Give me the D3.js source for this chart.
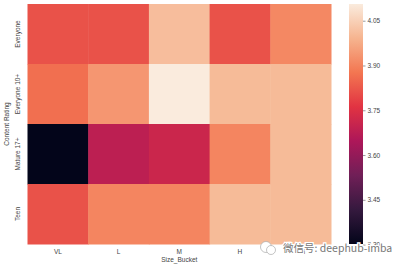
<!DOCTYPE html>
<html>
<head>
<meta charset="utf-8">
<script src="https://cdn.jsdelivr.net/npm/d3@7"></script>
<style>
  body { margin: 0; background: #fff; }
  svg text { font-family: "Liberation Sans", Arial, sans-serif; }
</style>
</head>
<body>
<script>
const xSize = 400; const ySize = 267;

// data
const sizeBuckets = ["VL", "L", "M", "H", "VH"];
const ratings = ["Everyone", "Everyone 10+", "Mature 17+", "Teen"];
const everyone   = [3.815, 3.815, 4.01, 3.815, 3.91];
const everyone10 = [3.865, 3.935, 4.106, 4.005, 4.005];
const mature17   = [3.302, 3.68, 3.71, 3.905, 4.005];
const teen       = [3.815, 3.905, 3.905, 4.005, 4.005];
const seriesValues = [everyone, everyone10, mature17, teen];
const cbarTicks = [3.30, 3.45, 3.60, 3.75, 3.90, 4.05];

// seaborn "rocket" key colours
const rocketStops = ["#03051a", "#35193e", "#701f57", "#ad1759", "#e13342", "#f37651", "#f6b48f", "#faebdd"];

const cells = [];
seriesValues.forEach((row, i) => {
    row.forEach((v, j) => cells.push({ rating: ratings[i], bucket: sizeBuckets[j], value: v }));
});

const vMin = d3.min(cells, d => d.value);
const vMax = d3.max(cells, d => d.value);

const rocket = d3.scaleLinear()
    .domain(d3.range(rocketStops.length).map(i => i / (rocketStops.length - 1)))
    .range(rocketStops)
    .interpolate(d3.interpolateRgb);
const color = v => rocket((v - vMin) / (vMax - vMin));

const plot = { left: 27.5, right: 331, top: 4, bottom: 244 };

const svg = d3.select("body")
    .append("svg")
    .attr("width", xSize)
    .attr("height", ySize);

let x = d3.scaleBand().domain(sizeBuckets).range([plot.left, plot.right]);
let y = d3.scaleBand().domain(ratings).range([plot.top, plot.bottom]);

svg.append("g")
    .selectAll("rect")
    .data(cells)
    .enter()
    .append("rect")
    .attr("x", d => x(d.bucket))
    .attr("y", d => y(d.rating))
    .attr("width", x.bandwidth() + 0.5)
    .attr("height", y.bandwidth() + 0.5)
    .attr("fill", d => color(d.value));

// x axis
const xAxis = svg.append("g")
    .attr("transform", "translate(0," + plot.bottom + ")")
    .call(d3.axisBottom(x).tickSize(0).tickPadding(5));
xAxis.select(".domain").remove();
xAxis.selectAll("text").attr("font-size", 6.5).attr("fill", "#444");

svg.append("text")
    .attr("x", (plot.left + plot.right) / 2)
    .attr("y", 262)
    .attr("text-anchor", "middle")
    .attr("font-size", 6.5)
    .attr("fill", "#444")
    .text("Size_Bucket");

// y axis
const yAxis = svg.append("g")
    .attr("transform", "translate(" + plot.left + ",0)")
    .call(d3.axisLeft(y).tickSize(0).tickPadding(0));
yAxis.select(".domain").remove();
yAxis.selectAll("text")
    .attr("font-size", 6.5)
    .attr("fill", "#444")
    .attr("x", 0).attr("dy", 0)
    .attr("text-anchor", "middle")
    .attr("transform", "translate(-8,0) rotate(-90)");

svg.append("text")
    .attr("transform", "translate(9," + (plot.top + plot.bottom) / 2 + ") rotate(-90)")
    .attr("text-anchor", "middle")
    .attr("font-size", 6.5)
    .attr("fill", "#444")
    .text("Content Rating");

// colorbar
const cbar = { left: 349, width: 14, top: 4, bottom: 244 };
const cy = d3.scaleLinear().domain([vMin, vMax]).range([cbar.bottom, cbar.top]);

const grad = svg.append("defs").append("linearGradient")
    .attr("id", "rocket")
    .attr("x1", 0).attr("y1", 1).attr("x2", 0).attr("y2", 0);
grad.selectAll("stop")
    .data(rocketStops)
    .enter()
    .append("stop")
    .attr("offset", (d, i) => i / (rocketStops.length - 1))
    .attr("stop-color", d => d);

svg.append("rect")
    .attr("x", cbar.left)
    .attr("y", cbar.top)
    .attr("width", cbar.width)
    .attr("height", cbar.bottom - cbar.top)
    .attr("fill", "url(#rocket)");

const cAxis = svg.append("g")
    .attr("transform", "translate(" + (cbar.left + cbar.width) + ",0)")
    .call(d3.axisRight(cy).tickValues(cbarTicks).tickFormat(d3.format(".2f")).tickSize(2.5).tickPadding(2));
cAxis.select(".domain").remove();
cAxis.selectAll("line").attr("stroke", "#555").attr("stroke-width", 0.6);
cAxis.selectAll("text").attr("font-size", 6.5).attr("fill", "#444");

// watermark (covers the last x tick label, as in the source picture)
const wm = svg.append("g").attr("transform", "translate(268,248)");
wm.append("circle").attr("cx", -2).attr("cy", -1).attr("r", 5.5).attr("fill", "#fff").attr("stroke", "#aaa").attr("stroke-width", 0.7);
wm.append("circle").attr("cx", 3).attr("cy", 2).attr("r", 4.5).attr("fill", "#fff").attr("stroke", "#aaa").attr("stroke-width", 0.7);
wm.append("text")
    .attr("x", 15)
    .attr("y", 4)
    .attr("font-size", 10.5)
    .attr("fill", "#777")
    .attr("stroke", "#fff")
    .attr("stroke-width", 2.5)
    .attr("paint-order", "stroke")
    .style("font-family", "'Noto Sans CJK SC', sans-serif")
    .text("微信号: deephub-imba");
</script>
</body>
</html>
